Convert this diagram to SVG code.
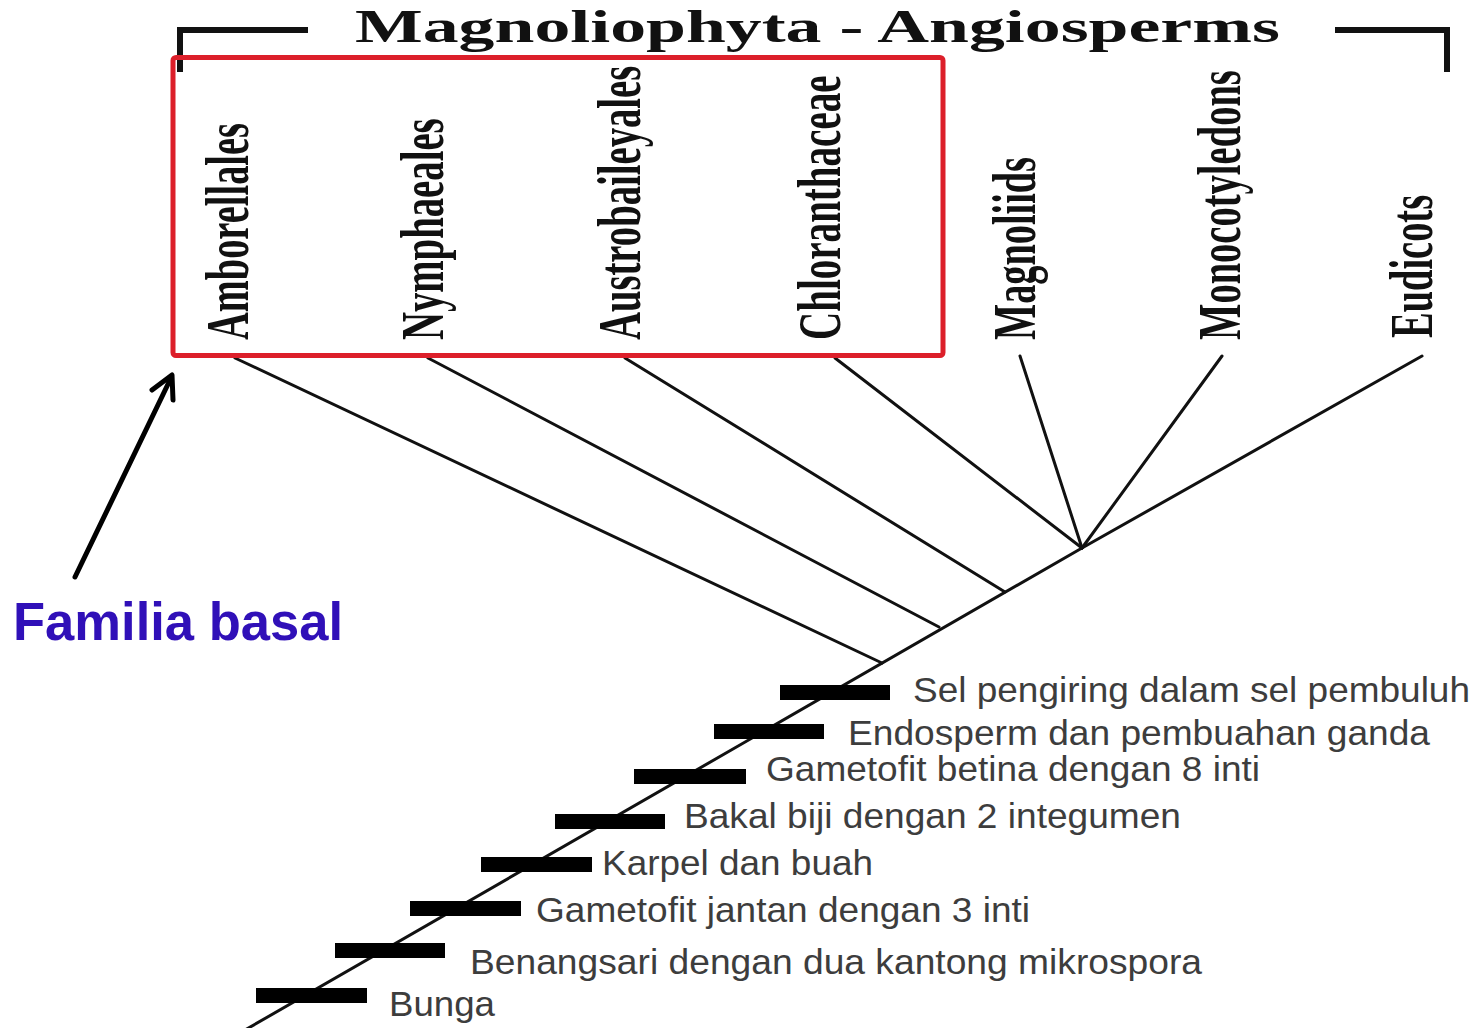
<svg xmlns="http://www.w3.org/2000/svg" width="1478" height="1028" viewBox="0 0 1478 1028">
<style>
.hdr{font-family:"Liberation Serif","Times New Roman",serif;font-weight:bold;font-size:46px;fill:#111}
.tax{font-family:"Liberation Serif","Times New Roman",serif;font-weight:bold;font-size:62px;fill:#111}
.chr{font-family:"Liberation Sans",Arial,sans-serif;font-size:35px;fill:#3d3d3d}
.fam{font-family:"Liberation Sans",Arial,sans-serif;font-weight:bold;font-size:53px;fill:#3010b8}
.br{stroke:#111;stroke-width:3;fill:none;stroke-linecap:round}
.bar{fill:#000}
.brk{stroke:#111;stroke-width:6;fill:none}
</style>
<rect width="1478" height="1028" fill="#fff"/>
<g id="header">
<path class="brk" d="M180,72 V30 H308"/>
<path class="brk" d="M1335,30 H1447 V72"/>
<text class="hdr" transform="translate(355,42) scale(1.56,1)">Magnoliophyta - Angiosperms</text>
</g>
<g id="connectors">
<line class="br" x1="245" y1="1030" x2="1082" y2="548"/>
<line class="br" x1="235" y1="358" x2="882" y2="663"/>
<line class="br" x1="428" y1="358" x2="939" y2="627"/>
<line class="br" x1="625" y1="358" x2="1005" y2="592"/>
<line class="br" x1="835" y1="358" x2="1082" y2="548"/>
<line class="br" x1="1020" y1="356" x2="1082" y2="548"/>
<line class="br" x1="1222" y1="356" x2="1082" y2="548"/>
<line class="br" x1="1422" y1="356" x2="1082" y2="548"/>
</g>
<g id="taxa">
<text class="tax" transform="translate(248,340) rotate(-90) scale(0.62,1)">Amborellales</text>
<text class="tax" transform="translate(443,340) rotate(-90) scale(0.625,1)">Nymphaeales</text>
<text class="tax" transform="translate(640,340) rotate(-90) scale(0.624,1)">Austrobaileyales</text>
<text class="tax" transform="translate(840,340) rotate(-90) scale(0.63,1)">Chloranthaceae</text>
<text class="tax" transform="translate(1035,340) rotate(-90) scale(0.618,1)">Magnoliids</text>
<text class="tax" transform="translate(1240,340) rotate(-90) scale(0.622,1)">Monocotyledons</text>
<text class="tax" transform="translate(1432,338) rotate(-90) scale(0.62,1)">Eudicots</text>
</g>
<g id="basal-box">
<rect x="173" y="57.5" width="770" height="298" rx="3" fill="none" stroke="#dc1f2a" stroke-width="5"/>
</g>
<g id="familia-basal">
<line x1="75" y1="577" x2="170" y2="380" stroke="#000" stroke-width="5" stroke-linecap="round"/>
<polyline points="152,390 172,375 173,400" fill="none" stroke="#000" stroke-width="5" stroke-linecap="round" stroke-linejoin="round"/>
<text class="fam" x="13" y="640" textLength="330" lengthAdjust="spacingAndGlyphs">Familia basal</text>
</g>
<g id="characters">
<rect class="bar" x="780" y="685" width="110" height="15"/>
<rect class="bar" x="714" y="724" width="110" height="15"/>
<rect class="bar" x="634" y="769" width="112" height="15"/>
<rect class="bar" x="555" y="814" width="110" height="15"/>
<rect class="bar" x="481" y="857" width="111" height="15"/>
<rect class="bar" x="410" y="901" width="111" height="15"/>
<rect class="bar" x="335" y="943" width="110" height="15"/>
<rect class="bar" x="256" y="988" width="111" height="15"/>
<text class="chr" x="913" y="702" textLength="557" lengthAdjust="spacingAndGlyphs">Sel pengiring dalam sel pembuluh</text>
<text class="chr" x="848" y="745" textLength="582" lengthAdjust="spacingAndGlyphs">Endosperm dan pembuahan ganda</text>
<text class="chr" x="766" y="781" textLength="494" lengthAdjust="spacingAndGlyphs">Gametofit betina dengan 8 inti</text>
<text class="chr" x="684" y="828" textLength="497" lengthAdjust="spacingAndGlyphs">Bakal biji dengan 2 integumen</text>
<text class="chr" x="602" y="875" textLength="271" lengthAdjust="spacingAndGlyphs">Karpel dan buah</text>
<text class="chr" x="536" y="922" textLength="494" lengthAdjust="spacingAndGlyphs">Gametofit jantan dengan 3 inti</text>
<text class="chr" x="470" y="974" textLength="732" lengthAdjust="spacingAndGlyphs">Benangsari dengan dua kantong mikrospora</text>
<text class="chr" x="389" y="1016" textLength="106" lengthAdjust="spacingAndGlyphs">Bunga</text>
</g>
</svg>
